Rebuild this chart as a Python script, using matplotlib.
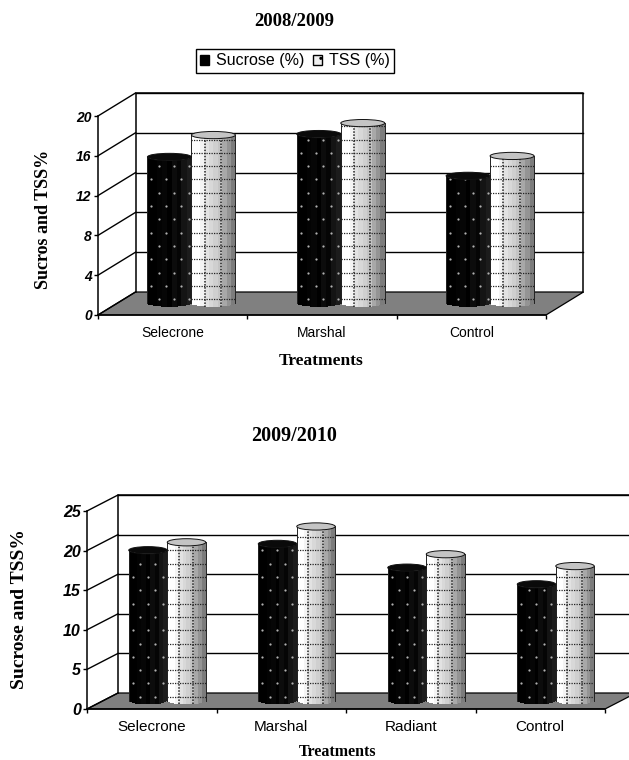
import numpy as np
import matplotlib
matplotlib.use("Agg")
import matplotlib.pyplot as plt
from matplotlib.patches import Ellipse, Polygon, Patch

W, H = 629, 760

# 2008/2009 values
cats1 = ["Selecrone", "Marshal", "Control"]
sucrose1 = [14.7, 17.0, 12.8]
tss1 = [16.9, 18.1, 14.8]
ticks1 = [0, 4, 8, 12, 16, 20]

# 2009/2010 values
cats2 = ["Selecrone", "Marshal", "Radiant", "Control"]
sucrose2 = [19.0, 19.8, 16.8, 14.7]
tss2 = [20.0, 22.0, 18.5, 17.0]
ticks2 = [0, 5, 10, 15, 20, 25]

dark_bands = ["#000000", "#000000", "#030303", "#060606", "#000000", "#0c0c0c", "#050505", "#141414", "#1c1c1c"]
light_bands = ["#ffffff", "#ffffff", "#f4f4f4", "#e2e2e2", "#d8d8d8", "#cfcfcf", "#c4c4c4", "#a8a8a8", "#949494", "#7c7c7c"]


def cylinder(ax, x0, width, base, value, semi, colors, px_x, px_y, pattern):
    # side surface made of thin strips, each following the front curve
    n = 40
    edges = np.linspace(x0, x0 + width, n + 1)
    mid = (edges[:-1] + edges[1:]) / 2
    t = (mid - x0) / width * 2 - 1
    curve = semi * np.sqrt(1 - t ** 2)
    idx = ((t + 1) / 2 * len(colors)).astype(int).clip(0, len(colors) - 1)
    ax.bar(mid, [value] * n, width=width / n * 1.05, bottom=base - curve,
           color=[colors[i] for i in idx], linewidth=0, clip_on=False, zorder=4)
    ax.plot([x0, x0], [base, base + value], color="#222222", lw=0.7, zorder=5, clip_on=False)
    ax.plot([x0 + width] * 2, [base, base + value], color="#222222", lw=0.7, zorder=5, clip_on=False)
    edge = "#111111"
    top = "#0a0a0a" if pattern == "dots" else "#c4c4c4"
    ax.add_patch(Ellipse((x0 + width / 2, base + value), width, semi * 2, facecolor=top,
                         edgecolor=edge, lw=0.7, zorder=6, clip_on=False))
    # surface pattern, spaced in pixels
    ys = np.arange(base + 4 * px_y, base + value, 13.3 * px_y)
    if pattern == "dots":
        for k, y in enumerate(ys):
            shift = 0 if k % 2 else 7.5 * px_x
            xs = np.arange(x0 + 4 * px_x + shift, x0 + width - 2 * px_x, 15 * px_x)
            ax.scatter(xs, [y] * len(xs), s=2.6, color="#b0b0b0", linewidths=0, zorder=5, clip_on=False)
    else:
        for y in ys:
            ax.plot([x0, x0 + width], [y, y], color="#222222", lw=0.9, ls=(0, (1, 1)), zorder=5, clip_on=False)
        for f in [0.3, 0.67]:
            xv = x0 + width * f
            ax.plot([xv, xv], [base - semi, base + value + semi * 0.6], color="#222222", lw=1.1,
                    ls=(0, (1, 1)), zorder=5, clip_on=False)


def panel(box, cats, sucrose, tss, ticks, depth, bar_px, ylabel, ylabel_xy, ylabel_size, xlabel, xlabel_size,
          cat_size, tick_size, cat_y):
    left, right, y0, ytop = box
    ax = fig.add_axes([left / W, 1 - y0 / H, (right - left) / W, (y0 - ytop) / H])
    n = len(cats)
    ax.set_xlim(0, n)
    ax.set_ylim(ticks[0], ticks[-1])
    px_x = n / (right - left)
    px_y = ticks[-1] / (y0 - ytop)
    dx = depth[0] * px_x
    dy = depth[1] * px_y
    ax.patch.set_visible(False)
    for s in ["top", "right"]:
        ax.spines[s].set_visible(False)
    for s in ["left", "bottom"]:
        ax.spines[s].set_linewidth(1.1)

    # floor and back wall
    ax.add_patch(Polygon([(0, 0), (n, 0), (n + dx, dy), (dx, dy)], closed=True, facecolor="#808080",
                         edgecolor="black", lw=0.9, clip_on=False, zorder=1))
    ax.plot([dx, dx, n + dx, n + dx], [dy, ticks[-1] + dy, ticks[-1] + dy, dy], color="black", lw=1.1,
            clip_on=False, zorder=2)
    for v in ticks:
        ax.plot([0, dx], [v, v + dy], color="black", lw=1.0, clip_on=False, zorder=2)
        if v > 0:
            ax.plot([dx, n + dx], [v + dy, v + dy], color="black", lw=1.0, clip_on=False, zorder=2)

    # bars stand half way into the depth
    base = 0.5 * dy + 0.3 * px_y
    width = bar_px * px_x
    semi = 3.6 * px_y
    for i in range(n):
        x_mid = i + 0.5 + 0.5 * dx
        cylinder(ax, x_mid - width, width, base, sucrose[i], semi, dark_bands, px_x, px_y, "dots")
        cylinder(ax, x_mid, width, base, tss[i], semi, light_bands, px_x, px_y, "grid")

    ax.set_xticks(range(n + 1))
    ax.set_xticklabels([])
    ax.tick_params(axis="x", length=3, width=1, direction="out")
    ax.set_yticks(ticks)
    ax.set_yticklabels([str(v) for v in ticks], fontsize=tick_size, fontstyle="italic", fontweight="bold",
                       family="Liberation Sans")
    ax.tick_params(axis="y", length=3, width=1, pad=1.5)
    for i, c in enumerate(cats):
        ax.text(i + 0.5, -(cat_y - y0) / (y0 - ytop), c, transform=ax.get_xaxis_transform(), fontsize=cat_size,
                family="Liberation Sans", ha="center", va="center")
    fig.text(ylabel_xy[0] / W, 1 - ylabel_xy[1] / H, ylabel, rotation=90, ha="center", va="center",
             family="Liberation Serif", fontweight="bold", fontsize=ylabel_size)
    fig.text(xlabel[0] / W, 1 - xlabel[1] / H, "Treatments", ha="center", va="center", family="Liberation Serif",
             fontweight="bold", fontsize=xlabel_size)
    return ax


fig = plt.figure(figsize=(W / 100, H / 100), dpi=100)

ax1 = panel((98, 546, 315, 116), cats1, sucrose1, tss1, ticks1, (37.5, 23), 44,
            "Sucros and TSS%", (43, 219), 13, (321, 361), 12.5, 10, 10, 333)
ax2 = panel((87, 605, 709, 511), cats2, sucrose2, tss2, ticks2, (31, 16), 38.5,
            "Sucrose and TSS%", (20, 609), 14, (338, 752), 11.5, 11, 11.5, 727)

fig.text(294 / W, 1 - 21 / H, "2008/2009", ha="center", va="center", family="Liberation Serif",
         fontweight="bold", fontsize=13.5)
fig.text(294 / W, 1 - 436 / H, "2009/2010", ha="center", va="center", family="Liberation Serif",
         fontweight="bold", fontsize=14.5)

handles = [Patch(facecolor="black", edgecolor="black"),
           Patch(facecolor="#f0f0f0", edgecolor="black", hatch="..")]
fig.legend(handles, ["Sucrose (%)", "TSS (%)"], loc="center", bbox_to_anchor=(295 / W, 1 - 61 / H), ncol=2,
           frameon=True, fancybox=False, edgecolor="black", framealpha=1, handlelength=0.55, handleheight=0.55,
           handletextpad=0.45, columnspacing=0.5, borderpad=0.3, borderaxespad=0,
           prop={"family": "Liberation Sans", "size": 11.5})

fig.savefig("out.png", dpi=100)
